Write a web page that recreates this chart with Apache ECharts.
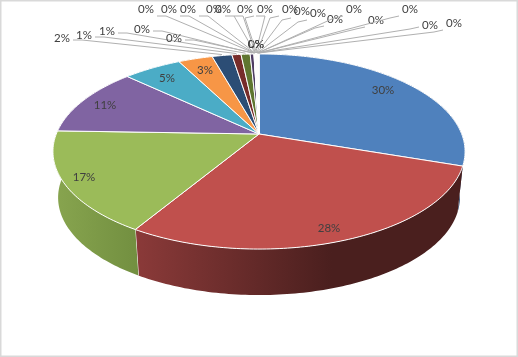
<!DOCTYPE html>
<html><head><meta charset="utf-8">
<style>html,body{margin:0;padding:0;background:#fff}#c{width:518px;height:357px}</style>
<script src="https://cdn.jsdelivr.net/npm/echarts@6/dist/echarts.min.js"></script>
</head><body><div id="c"></div>
<script>
const categories = ['A','B','C','D','E','F','G','H','I','J','K','L','M','N','O','P','Q','R','S','T','U','V','W','X','Y','Z','AA','AB','AC','AD'];
const values = [30.2,28.45,16.9,11.45,5.45,3.2,1.85,0.85,0.85,0.35,0.03,0.02,0.03,0.02,0.02,0.03,0.02,0.02,0.03,0.02,0.02,0.02,0.03,0.02,0.02,0.03,0.02,0.03,0.02,0.02];
const colors = ['#4f81bd','#c0504d','#9bbb59','#8064a2','#4bacc6','#f79646','#2c4d75','#772c2a','#5f7530','#4d3b62','#276a7c','#b65708','#729aca','#cd7371','#afc97a','#9983b5','#6fbdd1','#f9ab6b','#3a679c','#9e3b38','#7f9c40','#664f83','#358fa6','#f3740b','#95b3d7','#d99694','#c3d69b','#b3a2c7','#93cddd','#fac090'];
const wallColors = {
  0:['#2f4f78','#2a466c'],1:['#8b3a39','#4a1f1e'],2:['#88a54f','#728f40']
};
// label centres, page pixels, laid out by hand like the source chart
const labelLayout = [[383,90],[329,228],[84,177],[105,105],[167,78],[205,70],[62,38],[84,35],[107,31],[142,29],[174,38],[146,9],[169,9],[188,9],[214,9],[223,9],[245,9],[256,44],[256,44],[256,44],[265,9],[290,9],[302,11],[318,13],[335,19],[354,9],[376,20],[410,9],[430,25],[454,23]];

const total = values.reduce((a,b)=>a+b,0);
const starts = []; values.reduce((a,v,i)=>(starts[i]=a,a+v),0);
const toAngle = v => echarts.number.linearMap(v,[0,total],[0,Math.PI*2]);
const cx=259, cy=134, k=0.1795, Ay=94.4, Bx=202.7, depth=46, baseScale=0.975;
function proj(a,base){
  const X=Math.sin(a), Y=-Math.cos(a), d=1-k*Y;
  return [cx+(base?baseScale:1)*Bx*X/d, cy+(base?depth:0)+Ay*Y/d];
}
function arcPts(a0,a1,base){
  const n=Math.max(1,Math.ceil((a1-a0)/(Math.PI/180))), p=[];
  for(let i=0;i<=n;i++) p.push(proj(a0+(a1-a0)*i/n,base));
  return p;
}
const pct = v => Math.round(v/total*100)+'%';
const rows = values.map((v,i)=>[i,v]);

const wallItem = (params,api)=>{
  const i=api.value(0), v=api.value(1);
  const a0=toAngle(starts[i]), a1=toAngle(starts[i]+v);
  const pts=arcPts(a0,a1,false).concat(arcPts(a0,a1,true).reverse());
  const wc=wallColors[i]||[colors[i],colors[i]];
  const stops = i===1
    ? [{offset:0,color:wc[0]},{offset:0.6,color:wc[1]},{offset:1,color:wc[1]}]
    : [{offset:0,color:wc[0]},{offset:1,color:wc[1]}];
  const kids=[{type:'polygon',shape:{points:pts},style:{fill:{type:'linear',x:0,y:0,x2:1,y2:0,colorStops:stops}}}];
  if(Math.cos(a1)<-0.25 && i===1){
    const t=proj(a1,false), b=proj(a1,true);
    kids.push({type:'line',shape:{x1:t[0],y1:t[1],x2:b[0],y2:b[1]},style:{stroke:'#fff',lineWidth:1}});
  }
  return {type:'group',children:kids};
};
const topItem = (params,api)=>{
  const i=api.value(0), v=api.value(1);
  const pts=[[cx,cy]].concat(arcPts(toAngle(starts[i]),toAngle(starts[i]+v),false));
  return {type:'polygon',shape:{points:pts},style:{fill:colors[i],stroke:'#fff',lineWidth:1}};
};
const labelItem = (params,api)=>{
  const i=api.value(0), v=api.value(1);
  const [x,y]=labelLayout[i];
  const kids=[];
  if(i>=6 && !(x===256&&y===44)){
    const tgt=proj(toAngle(starts[i]+v/2),false);
    const left=x<cx;
    const sx=left?x+11:x-11, ex=left?x+20:x-20;
    const sy=y+(y<24?7:2), ey=sy+(left?0:2);
    kids.push({type:'polyline',shape:{points:[[sx,sy],[ex,ey],[tgt[0],tgt[1]-1]]},style:{stroke:'#b0b0b0',lineWidth:1,fill:null}});
  }
  kids.push({type:'text',x:x,y:y,style:{text:pct(v),fill:'#404040',font:'11.5px Lato',align:'center',verticalAlign:'middle'}});
  return {type:'group',children:kids};
};
const chart=echarts.init(document.getElementById('c'),null,{renderer:'canvas'});
const common={type:'custom',coordinateSystem:'none',data:rows,silent:true,animation:false,encode:{itemName:0,value:1}};
chart.setOption({
  animation:false,
  backgroundColor:'#fff',
  tooltip:{show:false},
  graphic:[{type:'rect',shape:{x:0.5,y:0.5,width:517,height:356},style:{fill:'none',stroke:'#d9d9d9',lineWidth:2},silent:true,z:-1}],
  series:[
    Object.assign({},common,{name:'walls',renderItem:wallItem,z:1}),
    Object.assign({},common,{name:'tops',renderItem:topItem,z:2}),
    Object.assign({},common,{name:'labels',renderItem:labelItem,z:3})
  ]
});
</script></body></html>
